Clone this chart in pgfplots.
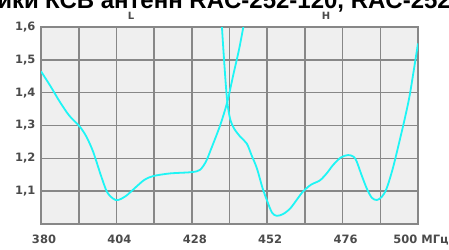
\documentclass[border=0pt]{standalone}
\usepackage{pgfplots}
\pgfplotsset{compat=1.18}
\usepackage{fontspec}
\setmainfont{Liberation Sans}
\newfontfamily\tickfont{DejaVu Sans}
\definecolor{gridc}{RGB}{135,135,135}
\definecolor{bgc}{RGB}{239,239,239}
\definecolor{curvec}{RGB}{30,245,245}
\definecolor{labc}{RGB}{75,75,75}
\begin{document}
\begin{tikzpicture}[x=1pt,y=1pt]
\useasboundingbox (0,0) rectangle (449,249);
\clip (0,0) rectangle (449,249);
\fill[white] (0,0) rectangle (449,249);
\node[anchor=base east,inner sep=0pt,font=\fontsize{24}{26}\selectfont\bfseries] at (39,240) {Характеристики};
\node[anchor=base west,inner sep=0pt,font=\fontsize{24}{26}\selectfont\bfseries] at (45,240) {КСВ антенн RAC-252-120, RAC-252-120};
\begin{axis}[
  scale only axis,
  width=377pt, height=197pt,
  at={(41pt,25pt)}, anchor=south west,
  xmin=380, xmax=500, ymin=1.0, ymax=1.6,
  axis background/.style={fill=bgc},
  axis line style={gridc, line width=1.6pt},
  xtick={380,404,428,452,476,500},
  xticklabels={380,404,428,452,476,{500 МГц}},
  minor xtick={392,416,440,464,488},
  ytick={1.1,1.2,1.3,1.4,1.5,1.6},
  yticklabels={{1,1},{1,2},{1,3},{1,4},{1,5},{1,6}},
  grid=both,
  major grid style={gridc, line width=1.6pt},
  minor grid style={gridc, line width=1.6pt},
  major tick length=0pt, minor tick length=0pt,
  tick label style={font=\tickfont\fontsize{11.5}{13}\selectfont\bfseries, text=labc},
  xticklabel style={yshift=-7pt, xshift=3pt},
  yticklabel style={xshift=-2pt},
  /pgf/number format/assume math mode=true,
  clip=true,
]
\addplot[curvec, line width=1.8pt, smooth, tension=0.5] coordinates {
(380,1.465) (383,1.42) (386,1.372) (389,1.33) (392.4,1.296) (394.5,1.265)
(396.6,1.22) (399,1.15) (401,1.098) (403,1.077) (404.5,1.073) (407,1.085)
(410.5,1.115) (413,1.135) (415.7,1.146) (421,1.154) (428,1.158) (430.6,1.165)
(432.5,1.19) (434,1.225) (437,1.30) (439.3,1.372) (441.2,1.454) (443,1.53)
(444.4,1.6) (445.5,1.66)
};
\addplot[curvec, line width=1.8pt, smooth, tension=0.5] coordinates {
(437.2,1.7) (437.6,1.6) (438.6,1.454) (439.3,1.372) (440.2,1.32) (441.5,1.29)
(443.5,1.265) (445.5,1.245) (447,1.21) (448.7,1.17) (450.5,1.11) (451.8,1.075)
(453.5,1.035) (455,1.025) (457,1.03) (459.3,1.047) (461.5,1.075) (463.5,1.10)
(466,1.12) (468.8,1.133) (471,1.155) (473,1.18) (475.5,1.203) (477.8,1.21)
(479.5,1.205) (480.5,1.19) (482,1.15) (483.7,1.108) (485.3,1.08) (486.9,1.073)
(488.5,1.083) (490,1.108) (492,1.17) (494.3,1.26) (496,1.33) (497.5,1.40)
(500,1.55)
};
\end{axis}
\node[font=\tickfont\fontsize{10}{12}\selectfont\bfseries, text=labc, inner sep=0pt] at (131,233) {L};
\node[font=\tickfont\fontsize{10}{12}\selectfont\bfseries, text=labc, inner sep=0pt] at (326,233) {H};
\end{tikzpicture}
\end{document}
